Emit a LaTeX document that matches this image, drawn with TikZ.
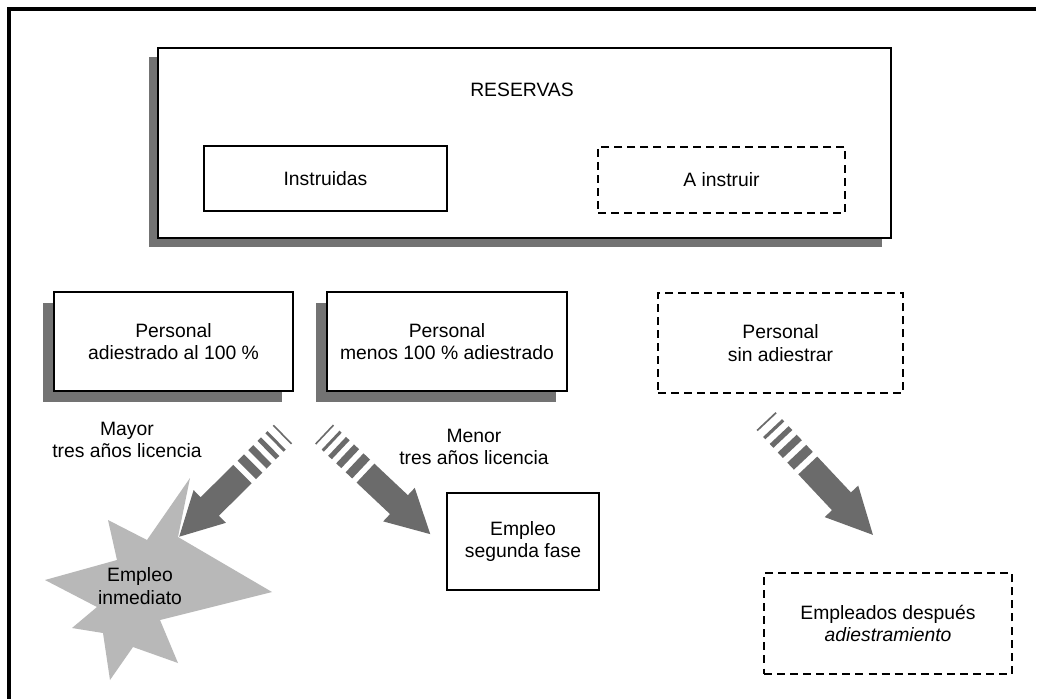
\documentclass[tikz,border=0pt]{standalone}
\usepackage{fontspec}
\setmainfont{Liberation Sans}
\usetikzlibrary{shadows}
\begin{document}
\begin{tikzpicture}[x=0.75pt,y=-0.75pt,
  every node/.style={font=\fontsize{14.5}{17}\selectfont, align=center, inner sep=0pt},
  size/.style 2 args={minimum width=#1*0.75pt, minimum height=#2*0.75pt},
  plainbox/.style={draw=black, line width=1.4pt, fill=white},
  dashbox/.style={draw=black, line width=1.4pt, fill=white, dash pattern=on 6pt off 3.8pt},
  boxshadow/.style={drop shadow={shadow xshift=-#1, shadow yshift=-#1, fill=black!55, opacity=1}},
  label/.style={text=black},
  tone/.style={fill=black!58},
  speedarrow/.pic={
    % fading stripes, thin near the tail, thicker towards the shaft
    \fill[tone] (0,-13) rectangle (1.6,13);
    \fill[tone] (9,-13) rectangle (12,13);
    \fill[tone] (18,-13) rectangle (23,13);
    \fill[tone] (29,-13) rectangle (36,13);
    \fill[tone] (42,-13) rectangle (51,13);
    % solid shaft and head
    \fill[tone] (57,-13) -- (103,-13) -- (103,-23) -- (146,0)
                -- (103,23) -- (103,13) -- (57,13) -- cycle;
  }]
\fill[white] (0,0) rectangle (1037,699);
\useasboundingbox (0,0) rectangle (1037,699);

% page frame (top and left rules)
\draw[line width=2.6pt, line join=miter] (1036,9) -- (9,9) -- (9,699);

% reserves block
\node[plainbox, boxshadow=7pt, size={733}{190}] (res) at (524.5,143) {};
\node[label] (restitle) at (522,90) {RESERVAS};
\node[plainbox, size={243}{65}] (instr) at (325.5,178.5) {Instruidas};
\node[dashbox, size={247}{66}] (ainstr) at (721.5,180) {A instruir};

% personnel categories
\node[plainbox, boxshadow=8.25pt, size={239}{99}] (p100) at (173.5,341.5)
  {Personal\\adiestrado al 100 \%};
\node[plainbox, boxshadow=8.25pt, size={240}{99}] (pless) at (447,341.5)
  {Personal\\menos 100 \% adiestrado};
\node[dashbox, size={245}{100}] (pnone) at (780.5,343)
  {Personal\\sin adiestrar};

% licence labels
\node[label] (mayor) at (127,440) {Mayor\\tres años licencia};
\node[label] (menor) at (474,447) {Menor\\tres años licencia};

% immediate employment burst
\fill[black!28] (190,478) -- (178,537) -- (272,592) -- (160,620) -- (178,663)
  -- (133,647) -- (110,680) -- (103,633) -- (72,628) -- (97,607) -- (45,580)
  -- (117,560) -- (108,520) -- (147,540) -- cycle;
\node[label] (inmed) at (140,586) {Empleo\\inmediato};

% later employment
\node[plainbox, size={152}{97}] (fase2) at (523,541.5) {Empleo\\segunda fase};
\node[dashbox, size={248}{101}] (despues) at (888,623.5)
  {Empleados después\\\textit{adiestramiento}};

% speed arrows
\coordinate (a1tail) at (283,434);
\coordinate (a2tail) at (324,434);
\coordinate (a3tail) at (766,421);
\pic[rotate=-135.3] at (a1tail) {speedarrow};
\pic[rotate=-43.3] at (a2tail) {speedarrow};
\pic[rotate=-46.8, xscale=1.07] at (a3tail) {speedarrow};
\end{tikzpicture}
\end{document}
